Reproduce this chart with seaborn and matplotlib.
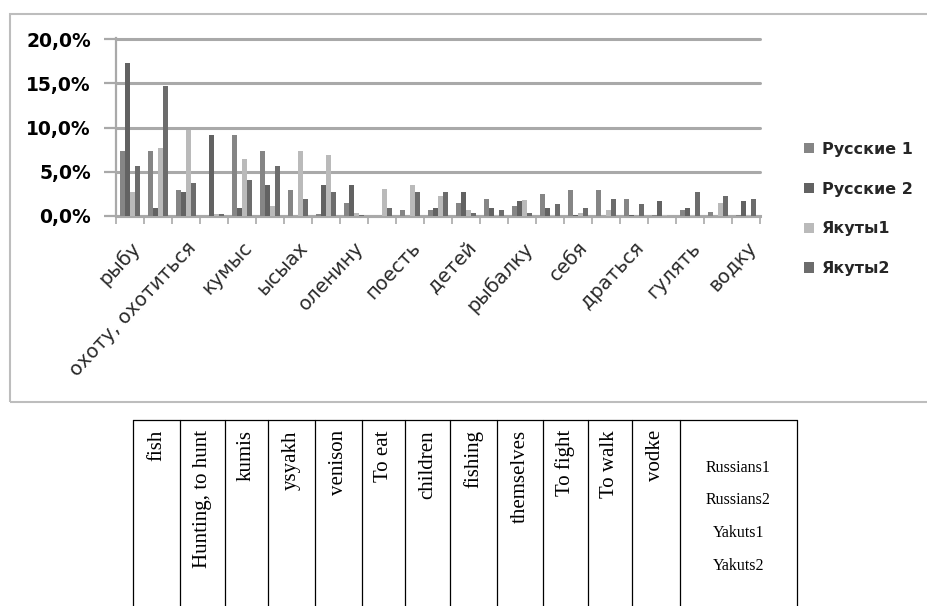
import matplotlib
matplotlib.use("Agg")
import matplotlib.pyplot as plt
from matplotlib.lines import Line2D
from matplotlib.patches import Rectangle
from matplotlib.ticker import FixedLocator, FuncFormatter
import numpy as np
import pandas as pd
import seaborn as sns

# Share of answers per word (percent), 23 words; every second word is labelled on the axis
shown_labels = ["рыбу", "охоту, охотиться", "кумыс", "ысыах", "оленину", "поесть",
                "детей", "рыбалку", "себя", "драться", "гулять", "водку"]
series_names = ["Русские 1", "Русские 2", "Якуты1", "Якуты2"]
russians1 = [7.3, 7.3, 2.9, 0.0, 9.1, 7.3, 2.9, 0.2, 1.5, 0.0, 0.7, 0.7,
             1.5, 1.9, 1.1, 2.5, 2.9, 2.9, 1.9, 0.1, 0.7, 0.4, 0.1]
russians2 = [17.3, 0.9, 2.7, 9.1, 0.9, 3.5, 0.0, 3.5, 3.5, 0.0, 0.0, 0.9,
             2.7, 0.9, 1.7, 0.9, 0.1, 0.0, 0.1, 1.7, 0.9, 0.0, 1.7]
yakuts1 = [2.7, 7.7, 9.7, 0.2, 6.4, 1.1, 7.3, 6.9, 0.3, 3.0, 3.5, 2.3,
           0.7, 0.1, 1.8, 0.1, 0.3, 0.7, 0.0, 0.1, 0.1, 1.5, 0.1]
yakuts2 = [5.7, 14.7, 3.7, 0.2, 4.1, 5.7, 1.9, 2.7, 0.1, 0.9, 2.7, 2.7,
           0.3, 0.7, 0.3, 1.3, 0.9, 1.9, 1.3, 0.0, 2.7, 2.3, 1.9]
y_ticks = [0, 5, 10, 15, 20]

# English glosses shown in the table under the chart
table_words = ["fish", "Hunting, to hunt", "kumis", "ysyakh", "venison", "To eat",
               "children", "fishing", "themselves", "To fight", "To walk", "vodke"]
table_groups = ["Russians1", "Russians2", "Yakuts1", "Yakuts2"]

palette = ["#858585", "#626262", "#bababa", "#6c6c6c"]

n_words = len(russians1)
rows = []
for name, vals in zip(series_names, [russians1, russians2, yakuts1, yakuts2]):
    for i, v in enumerate(vals):
        rows.append({"word": i, "group": name, "share": v})
df = pd.DataFrame(rows)

sns.set_theme(style="white")
plt.rcParams["font.family"] = ["DejaVu Sans"]

W, H = 927, 606
fig = plt.figure(figsize=(W / 100, H / 100), dpi=100)


def fx(x):
    return x / W


def fy(y):
    return 1 - y / H


# axes: x 116..760 px, 0% at y=216, 20% at y=39
ymax = 20.1
top_px = 216 - ymax * (216 - 39) / 20
ax = fig.add_axes([fx(116), fy(216), fx(760) - fx(116), fy(top_px) - fy(216)])

sns.barplot(data=df, x="word", y="share", hue="group", order=list(range(n_words)),
            hue_order=series_names, palette=palette, width=0.72, saturation=1,
            edgecolor="none", linewidth=0, ax=ax, legend=True, zorder=3)

ax.set_xlim(-0.5, n_words - 0.5)
ax.set_ylim(0, ymax)
ax.set_xlabel("")
ax.set_ylabel("")

grid_c = "#a9a9a9"
for t in y_ticks:
    ax.axhline(t, color=grid_c, lw=2.2, zorder=1, clip_on=False)

for s in ["top", "right"]:
    ax.spines[s].set_visible(False)
ax.spines["left"].set_color(grid_c)
ax.spines["left"].set_linewidth(1.6)
ax.spines["bottom"].set_color(grid_c)
ax.spines["bottom"].set_linewidth(2.2)

ax.yaxis.set_major_locator(FixedLocator(y_ticks))
ax.yaxis.set_major_formatter(FuncFormatter(lambda v, p: f"{v:.1f}%".replace(".", ",")))
ax.tick_params(axis="y", which="major", left=True, length=9, width=1.6, color=grid_c,
               pad=9, labelsize=13.5, labelcolor="black")
for lab in ax.get_yticklabels():
    lab.set_fontweight("bold")

# category boundaries get tick marks, every second category gets a label
ax.xaxis.set_minor_locator(FixedLocator(np.arange(-0.5, n_words, 1.0)))
ax.xaxis.set_major_locator(FixedLocator(np.arange(0, n_words, 2)))
ax.set_xticklabels(shown_labels)
ax.tick_params(axis="x", which="minor", bottom=True, length=6, width=1.2, color=grid_c)
ax.tick_params(axis="x", which="major", bottom=False, length=0, pad=16,
               labelsize=14, labelcolor="#2a2a2a")
for lab in ax.get_xticklabels():
    lab.set_rotation(47)
    lab.set_ha("right")
    lab.set_va("top")
    lab.set_rotation_mode("anchor")

leg = ax.legend(loc="center left", bbox_to_anchor=(fx(790), fy(209)),
                bbox_transform=fig.transFigure, frameon=False,
                handlelength=0.6, handleheight=0.6, handletextpad=0.5,
                labelspacing=1.55, prop={"weight": "bold", "size": 11.5})

# chart frame
fig.add_artist(Rectangle((fx(10), fy(402)), fx(940) - fx(10), fy(14) - fy(402),
                         transform=fig.transFigure, fill=False,
                         edgecolor="#bdbdbd", lw=1.5))

# translation table below the chart
col_edges = [133, 180, 225, 268, 315, 362, 405, 450, 497, 543, 588, 632, 680, 797]
table_top = 420
fig.add_artist(Line2D([fx(col_edges[0]), fx(col_edges[-1])], [fy(table_top), fy(table_top)],
                      transform=fig.transFigure, color="black", lw=0.9))
for xe in col_edges:
    fig.add_artist(Line2D([fx(xe), fx(xe)], [fy(table_top), fy(606)],
                          transform=fig.transFigure, color="black", lw=0.9))
for word, x0, x1 in zip(table_words, col_edges[:-1], col_edges[1:-1]):
    fig.text(fx((x0 + x1) / 2), fy(430), word, rotation=90, ha="center", va="top",
             family="Liberation Serif", fontsize=15, color="black")
for k, g in enumerate(table_groups):
    fig.text(fx((col_edges[-2] + col_edges[-1]) / 2), fy(468 + 32.5 * k), g,
             ha="center", va="center", family="Liberation Serif", fontsize=11.5,
             color="black")

fig.savefig("out.png", dpi=100, facecolor="white")
